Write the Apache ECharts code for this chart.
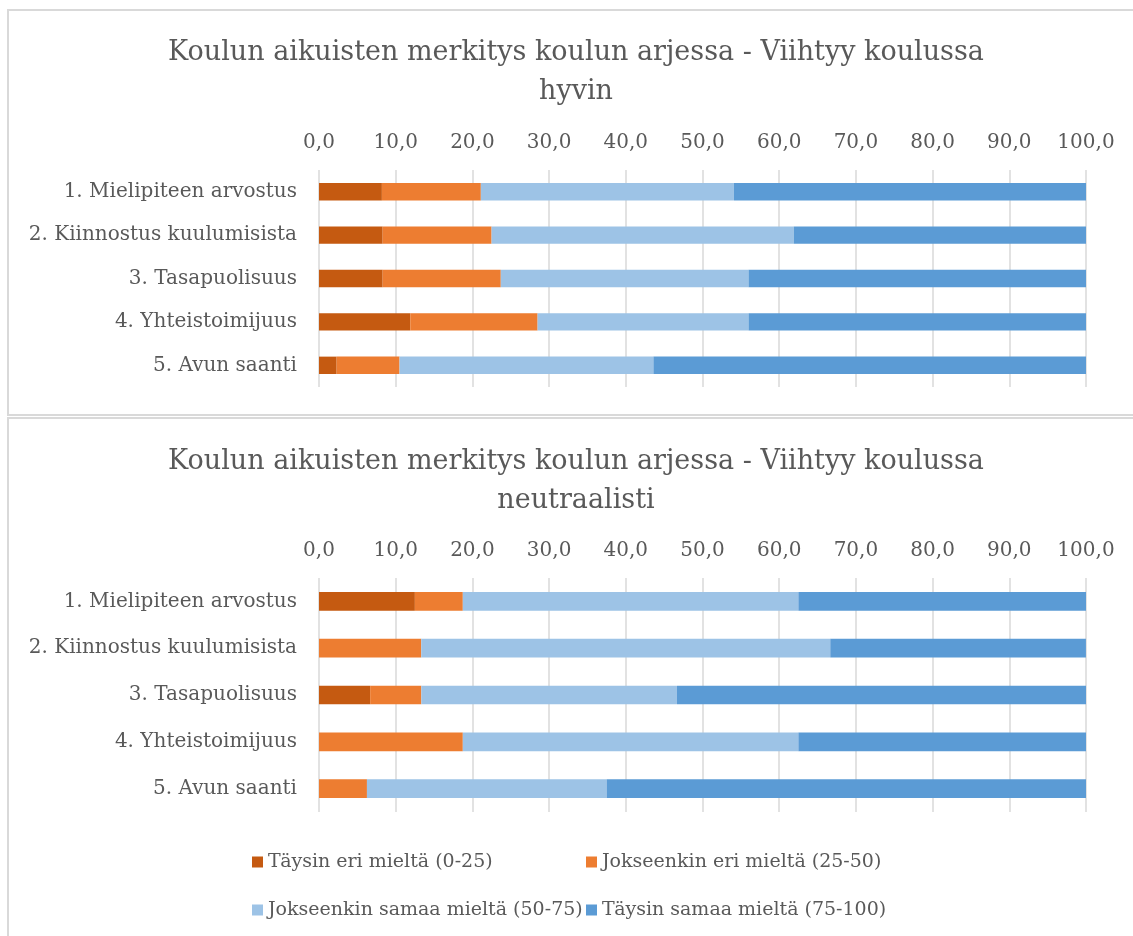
<!DOCTYPE html>
<html>
<head>
<meta charset="utf-8">
<script src="https://cdn.jsdelivr.net/npm/echarts@6/dist/echarts.min.js"></script>
<style>
  html, body { margin: 0; padding: 0; background: #fff; }
  #main { width: 1133px; height: 936px; }
</style>
</head>
<body>
<div id="main"></div>
<script>
var chartDom = document.getElementById('main');
var myChart = echarts.init(chartDom);
var option;

// kategoriat
var categories = ['1. Mielipiteen arvostus', '2. Kiinnostus kuulumisista', '3. Tasapuolisuus', '4. Yhteistoimijuus', '5. Avun saanti'];
var seriesNames = ['Täysin eri mieltä (0-25)', 'Jokseenkin eri mieltä (25-50)', 'Jokseenkin samaa mieltä (50-75)', 'Täysin samaa mieltä (75-100)'];
var colors = ['#C55A11', '#ED7D31', '#9DC3E6', '#5B9BD5'];

var titleTop = 'Koulun aikuisten merkitys koulun arjessa - Viihtyy koulussa\nhyvin';
var titleBottom = 'Koulun aikuisten merkitys koulun arjessa - Viihtyy koulussa\nneutraalisti';

// Viihtyy koulussa hyvin
var hyvinTaysinEri = [8.2, 8.3, 8.3, 11.9, 2.3];
var hyvinJokseenkinEri = [12.9, 14.2, 15.4, 16.6, 8.2];
var hyvinJokseenkinSamaa = [33.0, 39.4, 32.3, 27.5, 33.1];
var hyvinTaysinSamaa = [45.9, 38.1, 44.0, 44.0, 56.4];

// Viihtyy koulussa neutraalisti
var neutTaysinEri = [12.5, 0, 6.67, 0, 0];
var neutJokseenkinEri = [6.25, 13.33, 6.67, 18.75, 6.25];
var neutJokseenkinSamaa = [43.75, 53.33, 33.33, 43.75, 31.25];
var neutTaysinSamaa = [37.5, 33.33, 53.33, 37.5, 62.5];

var font = '"DejaVu Serif", "Liberation Serif", serif';
var grey = '#595959';

function xAxisFor(idx) {
  return {
    type: 'value',
    gridIndex: idx,
    position: 'top',
    min: 0,
    max: 100,
    interval: 10,
    axisLine: { show: false },
    axisTick: { show: false },
    axisLabel: {
      margin: 17,
      color: grey,
      fontFamily: font,
      fontSize: 20,
      formatter: function (v) { return v.toFixed(1).replace('.', ','); }
    },
    splitLine: { lineStyle: { color: '#d9d9d9', width: 1.5 } }
  };
}

function yAxisFor(idx) {
  return {
    type: 'category',
    gridIndex: idx,
    data: categories,
    inverse: true,
    axisLine: { show: false },
    axisTick: { show: false },
    axisLabel: { margin: 22, color: grey, fontFamily: font, fontSize: 20 }
  };
}

var groups = [
  [hyvinTaysinEri, hyvinJokseenkinEri, hyvinJokseenkinSamaa, hyvinTaysinSamaa],
  [neutTaysinEri, neutJokseenkinEri, neutJokseenkinSamaa, neutTaysinSamaa]
];

var series = [];
for (let g = 0; g < groups.length; g++) {
  for (let i = 0; i < 4; i++) {
    series.push({
      name: seriesNames[i],
      type: 'bar',
      stack: 'total' + g,
      xAxisIndex: g,
      yAxisIndex: g,
      barWidth: '40%',
      itemStyle: { color: colors[i] },
      emphasis: { disabled: true },
      data: groups[g][i]
    });
  }
}

var legendText = { color: grey, fontFamily: font, fontSize: 19, lineHeight: 24 };

function titleText(txt, y) {
  return {
    type: 'text',
    x: 576,
    y: y,
    style: {
      text: txt,
      textAlign: 'center',
      textVerticalAlign: 'top',
      fill: grey,
      font: '27px ' + font,
      lineHeight: 39
    }
  };
}

option = {
  backgroundColor: '#fff',
  animation: false,
  color: colors,
  graphic: [
    { type: 'rect', z: -10, shape: { x: 8, y: 10, width: 1150, height: 405 }, style: { fill: 'none', stroke: '#d9d9d9', lineWidth: 2 } },
    { type: 'rect', z: -10, shape: { x: 8, y: 418, width: 1150, height: 560 }, style: { fill: 'none', stroke: '#d9d9d9', lineWidth: 2 } },
    titleText(titleTop, 33),
    titleText(titleBottom, 442)
  ],
  legend: [
    {
      orient: 'vertical',
      left: 247,
      top: 845,
      itemWidth: 11,
      itemHeight: 11,
      itemGap: 24,
      icon: 'rect',
      selectedMode: false,
      textStyle: legendText,
      data: [seriesNames[0], seriesNames[2]]
    },
    {
      orient: 'vertical',
      left: 581,
      top: 845,
      itemWidth: 11,
      itemHeight: 11,
      itemGap: 24,
      icon: 'rect',
      selectedMode: false,
      textStyle: legendText,
      data: [seriesNames[1], seriesNames[3]]
    }
  ],
  grid: [
    { left: 319, right: 47, top: 170, height: 217 },
    { left: 319, right: 47, top: 578, height: 234 }
  ],
  xAxis: [xAxisFor(0), xAxisFor(1)],
  yAxis: [yAxisFor(0), yAxisFor(1)],
  series: series
};

option && myChart.setOption(option);
</script>
</body>
</html>
